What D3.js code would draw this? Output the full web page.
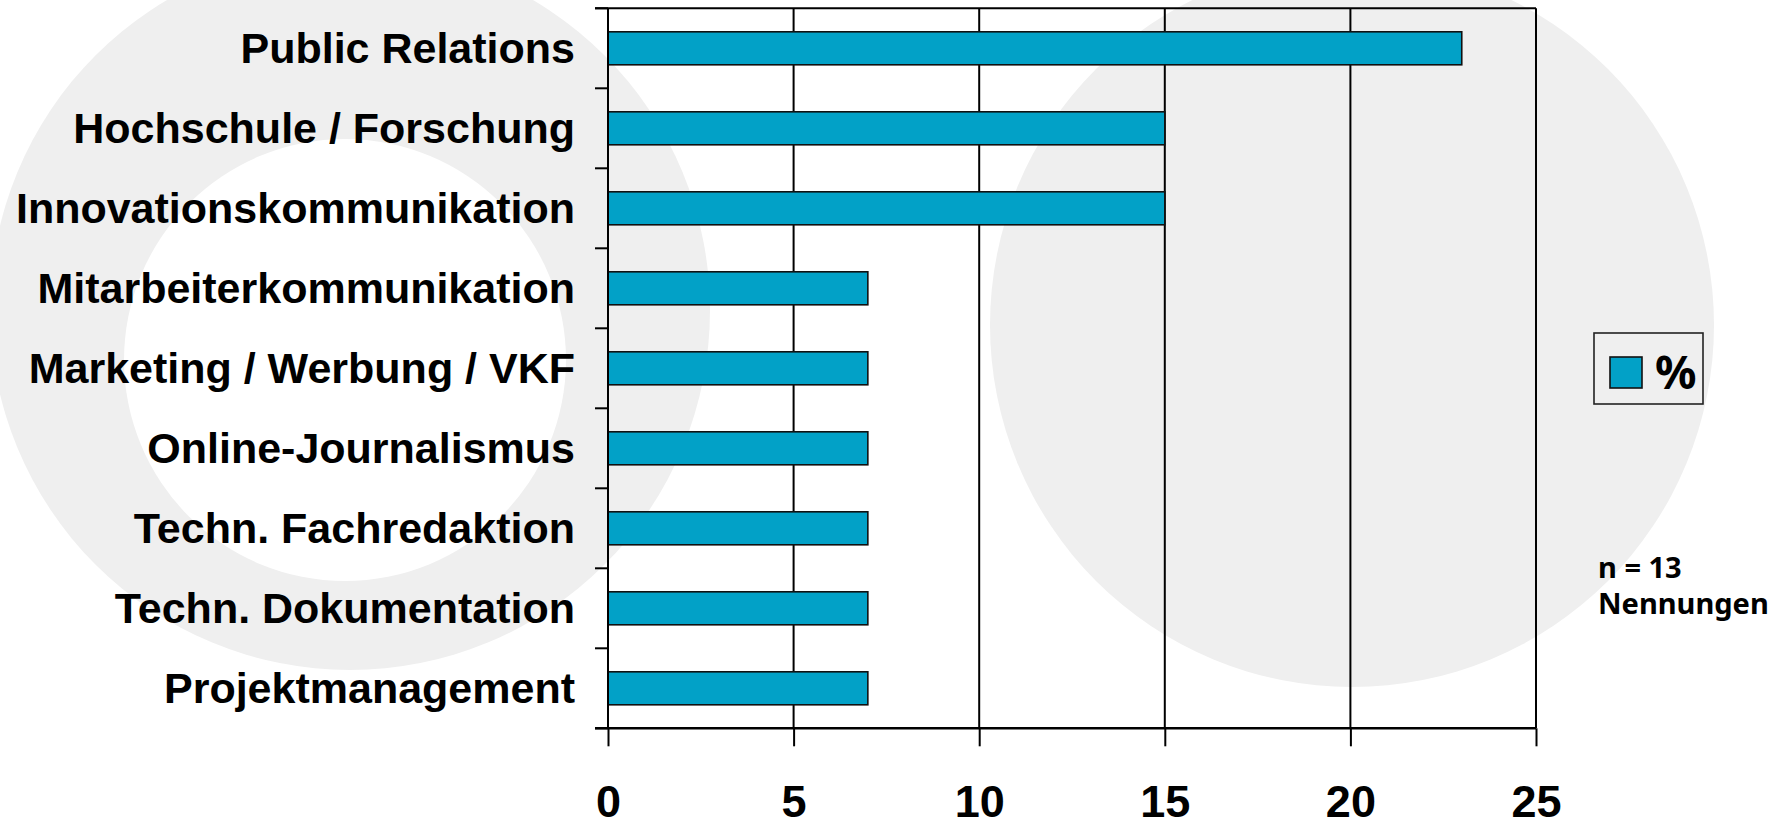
<!DOCTYPE html>
<html>
<head>
<meta charset="utf-8">
<script src="https://cdn.jsdelivr.net/npm/d3@7"></script>
<style>
  html, body { margin: 0; padding: 0; background: #ffffff; }
  svg { display: block; }
</style>
</head>
<body>
<svg id="chart" width="1786" height="829"></svg>
<script>
// ---- data ----
const categories = [
  "Public Relations",
  "Hochschule / Forschung",
  "Innovationskommunikation",
  "Mitarbeiterkommunikation",
  "Marketing / Werbung / VKF",
  "Online-Journalismus",
  "Techn. Fachredaktion",
  "Techn. Dokumentation",
  "Projektmanagement"
];
const values = [23, 15, 15, 7, 7, 7, 7, 7, 7];
const xTicks = [0, 5, 10, 15, 20, 25];
const seriesName = "%";
const noteLines = ["n = 13", "Nennungen"];

// ---- setup ----
const W = 1786, H = 829;
const svg = d3.select("#chart");
const barColor = "#02a1c7";
const grey = "#efefef";

// background decoration
const bg = svg.append("g");
bg.append("circle").attr("cx", 350).attr("cy", 310).attr("r", 360).attr("fill", grey);
bg.append("circle").attr("cx", 345).attr("cy", 360).attr("r", 221).attr("fill", "#ffffff");
bg.append("circle").attr("cx", 1352).attr("cy", 325).attr("r", 362).attr("fill", grey);

const x0 = 608, x1 = 1536, yTop = 8.3, yBot = 728.3;
const x = d3.scaleLinear().domain([0, 25]).range([x0, x1]);
const y = d3.scaleBand().domain(categories).range([yTop, yBot])
  .paddingInner(0.5875).paddingOuter(0.29375);

// vertical gridlines
svg.append("g").selectAll("line").data(xTicks).join("line")
  .attr("x1", d => x(d)).attr("x2", d => x(d))
  .attr("y1", yTop).attr("y2", yBot)
  .attr("stroke", "#000").attr("stroke-width", 2);

// top border
svg.append("line").attr("x1", x0 - 13).attr("x2", x1).attr("y1", yTop).attr("y2", yTop)
  .attr("stroke", "#000").attr("stroke-width", 2);

// bars
svg.append("g").selectAll("rect").data(values).join("rect")
  .attr("x", x(0))
  .attr("y", (d, i) => y(categories[i]))
  .attr("width", d => x(d) - x(0))
  .attr("height", y.bandwidth())
  .attr("fill", barColor)
  .attr("stroke", "#111").attr("stroke-width", 1.6);

// left axis (labels)
const yAxis = svg.append("g").attr("transform", `translate(${x0},0)`)
  .call(d3.axisLeft(y).tickSize(0).tickPadding(33));
yAxis.select(".domain").remove();
yAxis.selectAll("text")
  .attr("font-family", "'Liberation Sans', Arial, sans-serif")
  .attr("font-weight", "bold")
  .attr("font-size", 43)
  .attr("fill", "#000")
  .attr("dy", "0.35em");

// left axis line + boundary ticks
svg.append("line").attr("x1", x0).attr("x2", x0).attr("y1", yTop).attr("y2", yBot)
  .attr("stroke", "#000").attr("stroke-width", 2);
const bounds = d3.range(categories.length + 1).map(i => yTop + i * y.step());
svg.append("g").selectAll("line").data(bounds).join("line")
  .attr("x1", x0 - 13).attr("x2", x0).attr("y1", d => d).attr("y2", d => d)
  .attr("stroke", "#000").attr("stroke-width", 2);

// bottom axis
const xAxis = svg.append("g").attr("transform", `translate(0,${yBot})`)
  .call(d3.axisBottom(x).tickValues(xTicks).tickSize(18).tickPadding(40).tickSizeOuter(0));
xAxis.select(".domain").remove();
xAxis.selectAll("line").attr("stroke", "#000").attr("stroke-width", 2);
xAxis.selectAll("text")
  .attr("font-family", "'Liberation Sans', Arial, sans-serif")
  .attr("font-weight", "bold")
  .attr("font-size", 45)
  .attr("fill", "#000")
  .attr("dy", "0.68em");
svg.append("line").attr("x1", x0 - 13).attr("x2", x1).attr("y1", yBot).attr("y2", yBot)
  .attr("stroke", "#000").attr("stroke-width", 2.5);

// legend
const lg = svg.append("g");
lg.append("rect").attr("x", 1594).attr("y", 333).attr("width", 109).attr("height", 71)
  .attr("fill", "none").attr("stroke", "#222").attr("stroke-width", 1.6);
lg.append("rect").attr("x", 1610).attr("y", 357).attr("width", 32).attr("height", 31)
  .attr("fill", barColor).attr("stroke", "#111").attr("stroke-width", 1.6);
lg.append("text").attr("x", 1655).attr("y", 389)
  .attr("font-family", "'Noto Sans', 'Open Sans', sans-serif")
  .attr("font-weight", "bold").attr("font-size", 46).attr("fill", "#000")
  .text(seriesName);

// note
svg.append("g").selectAll("text").data(noteLines).join("text")
  .attr("x", 1598).attr("y", (d, i) => 578 + i * 36)
  .attr("font-family", "'Noto Sans', 'Open Sans', sans-serif")
  .attr("font-weight", "bold").attr("font-size", 29).attr("fill", "#000")
  .text(d => d);
</script>
</body>
</html>
